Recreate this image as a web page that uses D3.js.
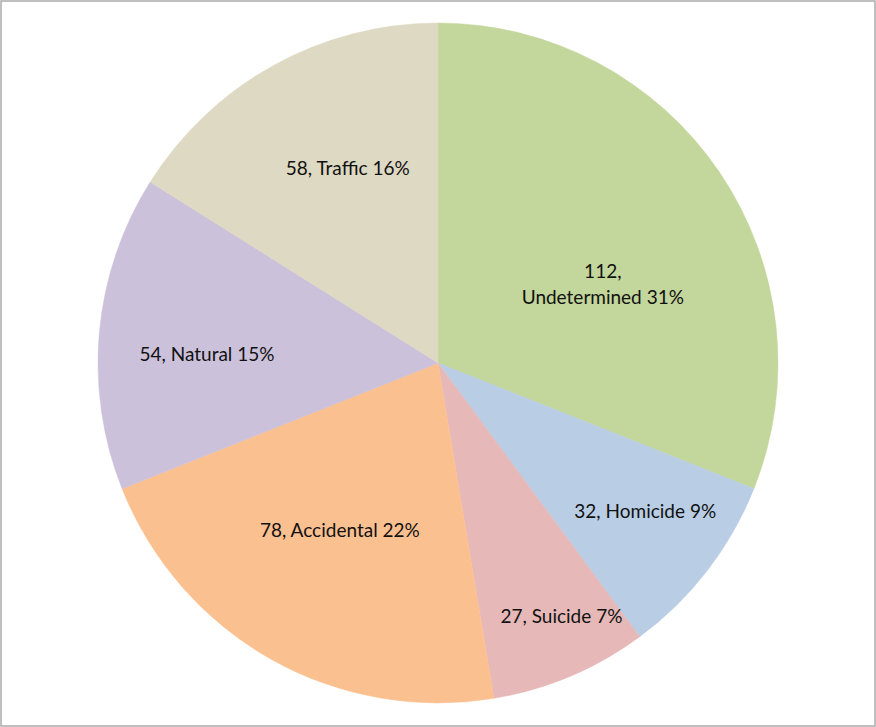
<!DOCTYPE html>
<html>
<head>
<meta charset="utf-8">
<script src="https://cdn.jsdelivr.net/npm/d3@7"></script>
<style>
  body { margin: 0; background: #fff; }
  svg { display: block; }
  text { font-family: Lato, "Open Sans", sans-serif; fill: #111; }
</style>
</head>
<body>
<svg id="chart"></svg>
<script>
// data, clockwise from 12 o'clock
var categories = ['Undetermined', 'Homicide', 'Suicide', 'Accidental', 'Natural', 'Traffic'];
var counts = [112, 32, 27, 78, 54, 58];
var percents = ['31%', '9%', '7%', '22%', '15%', '16%'];
var colors = ['#C3D69B', '#B9CDE5', '#E6B9B8', '#FAC090', '#CCC1DA', '#DDD9C3'];

// label placement: distance from centre (fraction of radius) and angle nudge (deg)
var labelDist = [0.54, 0.75, 0.83, 0.57, 0.68, 0.63];
var labelNudge = [8, -2, -3, 1, -3, 4];

var width = 876;
var height = 727;
var radius = 340;
var cx = 438, cy = 363;

var svg = d3.select('#chart')
  .attr('width', width)
  .attr('height', height);

// outer frame
svg.append('rect')
  .attr('x', 1)
  .attr('y', 1)
  .attr('width', width - 2)
  .attr('height', height - 2)
  .attr('fill', '#fff')
  .attr('stroke', '#ababab')
  .attr('stroke-width', 1.5);

var data = categories.map(function (c, i) {
  return { name: c, value: counts[i], pct: percents[i], color: colors[i], i: i };
});

var pie = d3.pie()
  .sort(null)
  .value(function (d) { return d.value; });

var arc = d3.arc()
  .innerRadius(0)
  .outerRadius(radius);

var g = svg.append('g')
  .attr('transform', 'translate(' + cx + ',' + cy + ')');

var slices = pie(data);

g.selectAll('path')
  .data(slices)
  .enter().append('path')
    .attr('d', arc)
    .attr('fill', function (d) { return d.data.color; })
    .attr('stroke', function (d) { return d.data.color; })
    .attr('stroke-width', 0.5);

var labels = g.selectAll('text')
  .data(slices)
  .enter().append('text')
    .attr('text-anchor', 'middle')
    .attr('font-size', '19px')
    .attr('transform', function (d) {
      var a = (d.startAngle + d.endAngle) / 2 + labelNudge[d.data.i] * Math.PI / 180;
      var r = radius * labelDist[d.data.i];
      return 'translate(' + (r * Math.sin(a)) + ',' + (-r * Math.cos(a)) + ')';
    });

labels.each(function (d) {
  var t = d3.select(this);
  if (d.data.name === 'Undetermined') {
    // long name wraps onto two lines
    t.append('tspan').attr('x', 0).attr('dy', '-0.2em').text(d.data.value + ',');
    t.append('tspan').attr('x', 0).attr('dy', '1.35em').text(d.data.name + ' ' + d.data.pct);
  } else {
    t.append('tspan').attr('x', 0).attr('dy', '0.35em')
      .text(d.data.value + ', ' + d.data.name + ' ' + d.data.pct);
  }
});
</script>
</body>
</html>
